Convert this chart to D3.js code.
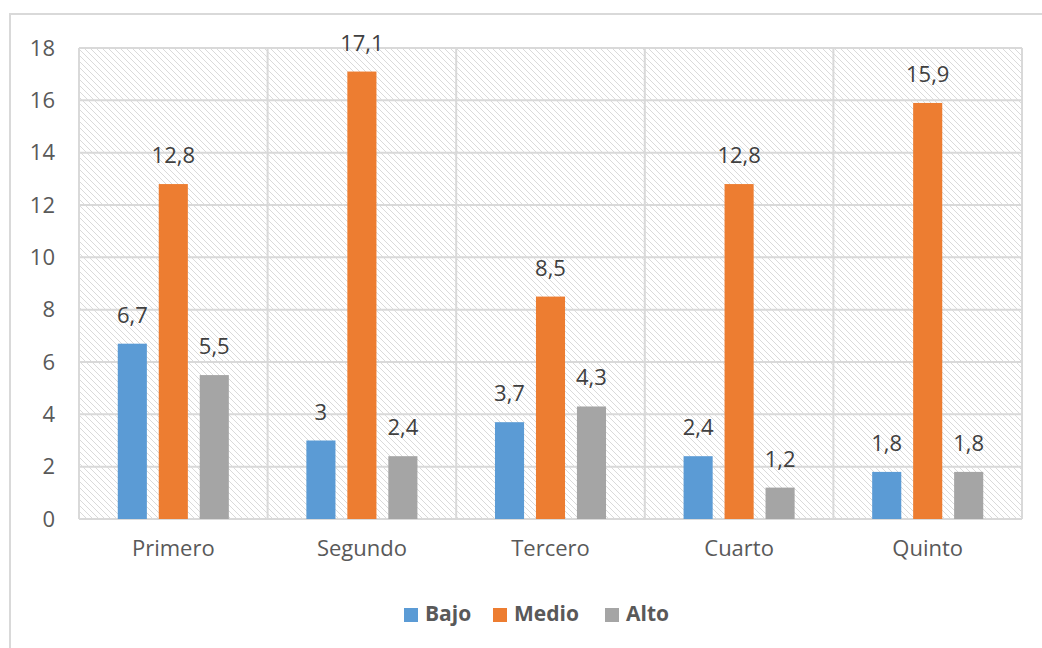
<!DOCTYPE html>
<html><head><meta charset="utf-8">
<script src="https://cdn.jsdelivr.net/npm/d3@7"></script>
<style>html,body{margin:0;padding:0;background:#fff;}svg{display:block;}</style>
</head><body>
<svg id="chart" width="1042" height="648"></svg>
<script>
const categories = ["Primero","Segundo","Tercero","Cuarto","Quinto"];
const seriesNames = ["Bajo","Medio","Alto"];
const bajo  = [6.7, 3, 3.7, 2.4, 1.8];
const medio = [12.8, 17.1, 8.5, 12.8, 15.9];
const alto  = [5.5, 2.4, 4.3, 1.2, 1.8];
const yTicks = [0,2,4,6,8,10,12,14,16,18];
const colors = ["#5b9bd5","#ed7d31","#a5a5a5"];

const seriesVals = [bajo, medio, alto];
const svg = d3.select("#chart");
const font = "'Open Sans', sans-serif";
const textCol = "#595959";

// outer frame
svg.append("rect").attr("x",10).attr("y",14).attr("width",1040).attr("height",640)
  .attr("fill","#fff").attr("stroke","#d9d9d9").attr("stroke-width",2);

const m = {left:79, top:48, right:1022, bottom:519};
const x = d3.scaleBand().domain(categories).range([m.left,m.right]).paddingInner(0).paddingOuter(0);
const y = d3.scaleLinear().domain([0,18]).range([m.bottom,m.top]);
const xs = d3.scaleBand().domain(seriesNames).range([0,x.bandwidth()]).paddingInner(0.29).paddingOuter(0.946);

// hatch pattern
const defs = svg.append("defs");
const pat = defs.append("pattern").attr("id","hatch").attr("patternUnits","userSpaceOnUse")
  .attr("width",6).attr("height",6);
pat.append("rect").attr("width",6).attr("height",6).attr("fill","#fff");
pat.append("path").attr("d","M-1,-1 L7,7 M-4,2 L2,8 M4,-2 L8,2").attr("stroke","#dadada").attr("stroke-width",1);

svg.append("rect").attr("x",m.left).attr("y",m.top).attr("width",m.right-m.left).attr("height",m.bottom-m.top)
  .attr("fill","url(#hatch)");

// horizontal gridlines
svg.append("g").selectAll("line").data(yTicks).join("line")
  .attr("x1",m.left).attr("x2",m.right).attr("y1",d=>y(d)).attr("y2",d=>y(d))
  .attr("stroke","#d9d9d9").attr("stroke-width",2);
// vertical gridlines
svg.append("g").selectAll("line").data(categories.concat(["end"])).join("line")
  .attr("x1",(d,i)=> i<categories.length ? x(d) : m.right)
  .attr("x2",(d,i)=> i<categories.length ? x(d) : m.right)
  .attr("y1",m.top).attr("y2",m.bottom)
  .attr("stroke","#d9d9d9").attr("stroke-width",2);

// y axis labels
const yAxis = d3.axisLeft(y).tickValues(yTicks).tickSize(0).tickPadding(24).tickFormat(d=>d);
const ga = svg.append("g").attr("transform",`translate(${m.left},0)`).call(yAxis);
ga.select(".domain").remove();
ga.selectAll("text").attr("font-family",font).attr("font-size",22).attr("fill",textCol);

// x axis labels
const xAxis = d3.axisBottom(x).tickSize(0).tickPadding(21);
const gx = svg.append("g").attr("transform",`translate(0,${m.bottom})`).call(xAxis);
gx.select(".domain").remove();
gx.selectAll("text").attr("font-family",font).attr("font-size",22).attr("fill",textCol);

// bars
const fmt = v => String(v).replace(".", ",");
categories.forEach((c,ci)=>{
  const g = svg.append("g").attr("transform",`translate(${x(c)},0)`);
  seriesNames.forEach((s,si)=>{
    const v = seriesVals[si][ci];
    g.append("rect").attr("x",xs(s)).attr("width",xs.bandwidth())
      .attr("y",y(v)).attr("height",y(0)-y(v)).attr("fill",colors[si]);
    g.append("text").attr("x",xs(s)+xs.bandwidth()/2).attr("y",y(v)-21)
      .attr("text-anchor","middle").attr("font-family",font).attr("font-size",22)
      .attr("fill","#404040").text(fmt(v));
  });
});

// legend
const legendItems = [{x:404,tx:425},{x:493,tx:514},{x:605,tx:626}];
seriesNames.forEach((s,i)=>{
  svg.append("rect").attr("x",legendItems[i].x).attr("y",608).attr("width",14).attr("height",14).attr("fill",colors[i]);
  svg.append("text").attr("x",legendItems[i].tx).attr("y",621).attr("font-family",font)
    .attr("font-size",21).attr("font-weight","bold").attr("fill",textCol).text(s);
});
</script>
</body></html>
